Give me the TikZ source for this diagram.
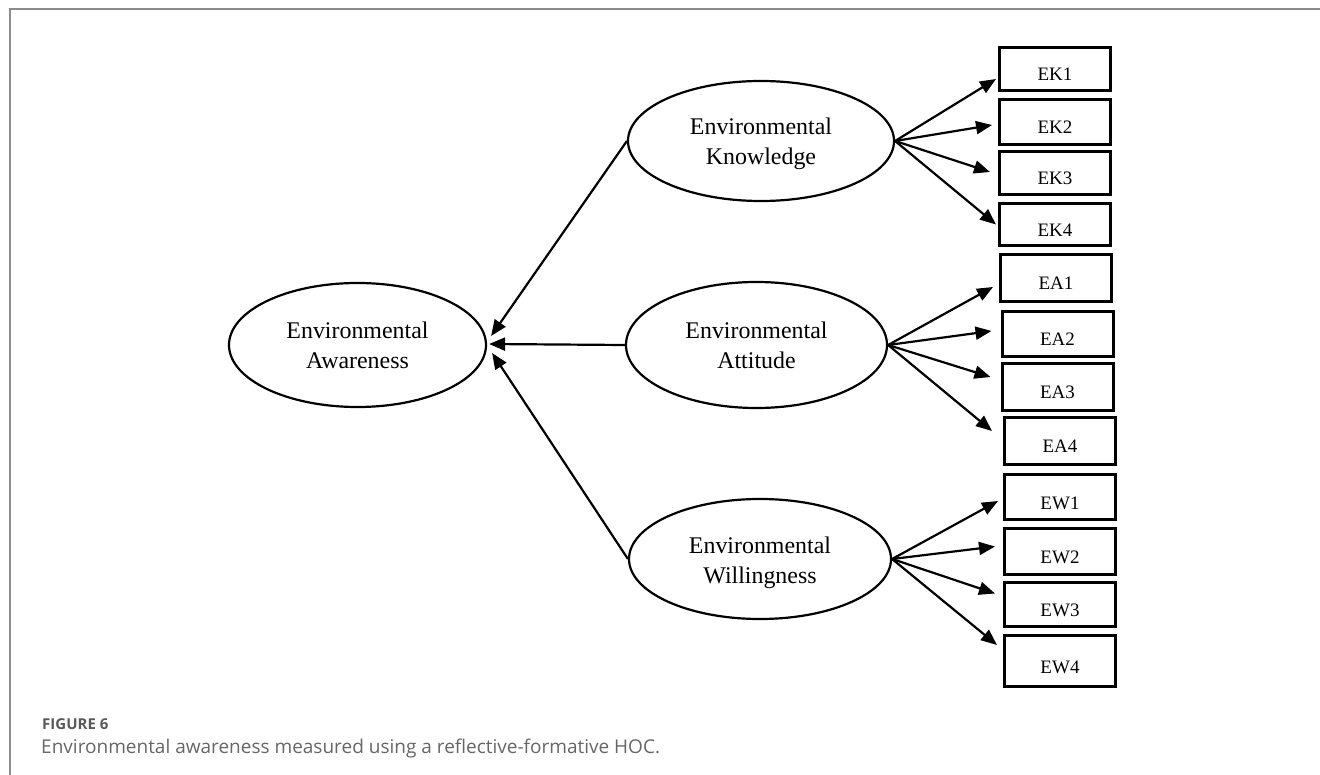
\documentclass[tikz,border=0pt]{standalone}
\usepackage{fontspec}
\setmainfont{Liberation Serif}
\newfontfamily\capfont{Open Sans}
\usetikzlibrary{arrows.meta,shapes.geometric}
\definecolor{framegray}{HTML}{8C8C8C}
\definecolor{figgray}{HTML}{595959}
\definecolor{capgray}{HTML}{666666}
\begin{document}
\begin{tikzpicture}[x=1pt,y=-1pt,
  lat/.style={ellipse,draw,line width=2.2pt,inner sep=0pt,align=center,
    font=\fontsize{23.9}{30}\selectfont,text height=48pt,text depth=0pt},
  ind/.style={rectangle,draw,line width=3pt,inner sep=0pt,minimum width=111pt,
    font=\fontsize{19}{22}\selectfont,text height=24pt,text depth=0pt},
  arr/.style={line width=2.2pt,-{Triangle[length=16pt,width=13pt]}},
  captxt/.style={anchor=base west,inner sep=0pt},
]
\useasboundingbox (0,0) rectangle (1320,775);
\draw[framegray,line width=2pt] (9.5,775) -- (9.5,9.5) -- (1320,9.5);

% latent constructs
\node[lat,minimum width=257pt,minimum height=124pt] (aw) at (357.5,345) {Environmental\\Awareness};
\node[lat,minimum width=266pt,minimum height=120pt] (ek) at (761,141) {Environmental\\Knowledge};
\node[lat,minimum width=261pt,minimum height=126pt] (ea) at (756.5,345) {Environmental\\Attitude};
\node[lat,minimum width=262pt,minimum height=120pt] (ew) at (760,559) {Environmental\\Willingness};

% indicators
\node[ind,minimum height=43pt] (ek1) at (1055,69) {EK1};
\node[ind,minimum height=45pt] (ek2) at (1055,122) {EK2};
\node[ind,minimum height=43pt] (ek3) at (1055,173) {EK3};
\node[ind,minimum height=42pt] (ek4) at (1055,224.5) {EK4};
\node[ind,minimum height=47pt] (ea1) at (1056,278) {EA1};
\node[ind,minimum height=45pt] (ea2) at (1057.5,334) {EA2};
\node[ind,minimum height=47pt] (ea3) at (1057.5,387) {EA3};
\node[ind,minimum height=47pt] (ea4) at (1060,441) {EA4};
\node[ind,minimum height=45pt] (ew1) at (1060,497) {EW1};
\node[ind,minimum height=46pt] (ew2) at (1060,551.5) {EW2};
\node[ind,minimum height=44pt] (ew3) at (1060,604.5) {EW3};
\node[ind,minimum height=51pt] (ew4) at (1060,661) {EW4};

% formative paths to HOC
\draw[arr] (ek.west) -- ([shift={(4,-9)}]aw.east);
\draw[arr] (ea.west) -- ([shift={(2,-1)}]aw.east);
\draw[arr] (ew.west) -- ([shift={(5,8)}]aw.east);

% reflective paths
\draw[arr] (ek.east) -- ([shift={(-2,10)}]ek1.west);
\draw[arr] (ek.east) -- ([shift={(-6,3)}]ek2.west);
\draw[arr] (ek.east) -- ([shift={(-8,-1)}]ek3.west);
\draw[arr] (ek.east) -- ([shift={(-2,0)}]ek4.west);

\draw[arr] (ea.east) -- ([shift={(-6,9)}]ea1.west);
\draw[arr] (ea.east) -- ([shift={(-9,-3)}]ea2.west);
\draw[arr] (ea.east) -- ([shift={(-10,-10)}]ea3.west);
\draw[arr] (ea.east) -- ([shift={(-11,-10)}]ea4.west);

\draw[arr] (ew.east) -- ([shift={(-5,4)}]ew1.west);
\draw[arr] (ew.east) -- ([shift={(-8,-5)}]ew2.west);
\draw[arr] (ew.east) -- ([shift={(-8,-11)}]ew3.west);
\draw[arr] (ew.east) -- ([shift={(-6,-16)}]ew4.west);

% caption
\node[captxt,font=\capfont\bfseries\fontsize{15}{17}\selectfont,text=figgray] (fig) at (42,729) {FIGURE 6};
\node[captxt,font=\capfont\fontsize{19}{22}\selectfont,text=capgray] (cap) at (41,753) {Environmental awareness measured using a reflective-formative HOC.};
\end{tikzpicture}
\end{document}
